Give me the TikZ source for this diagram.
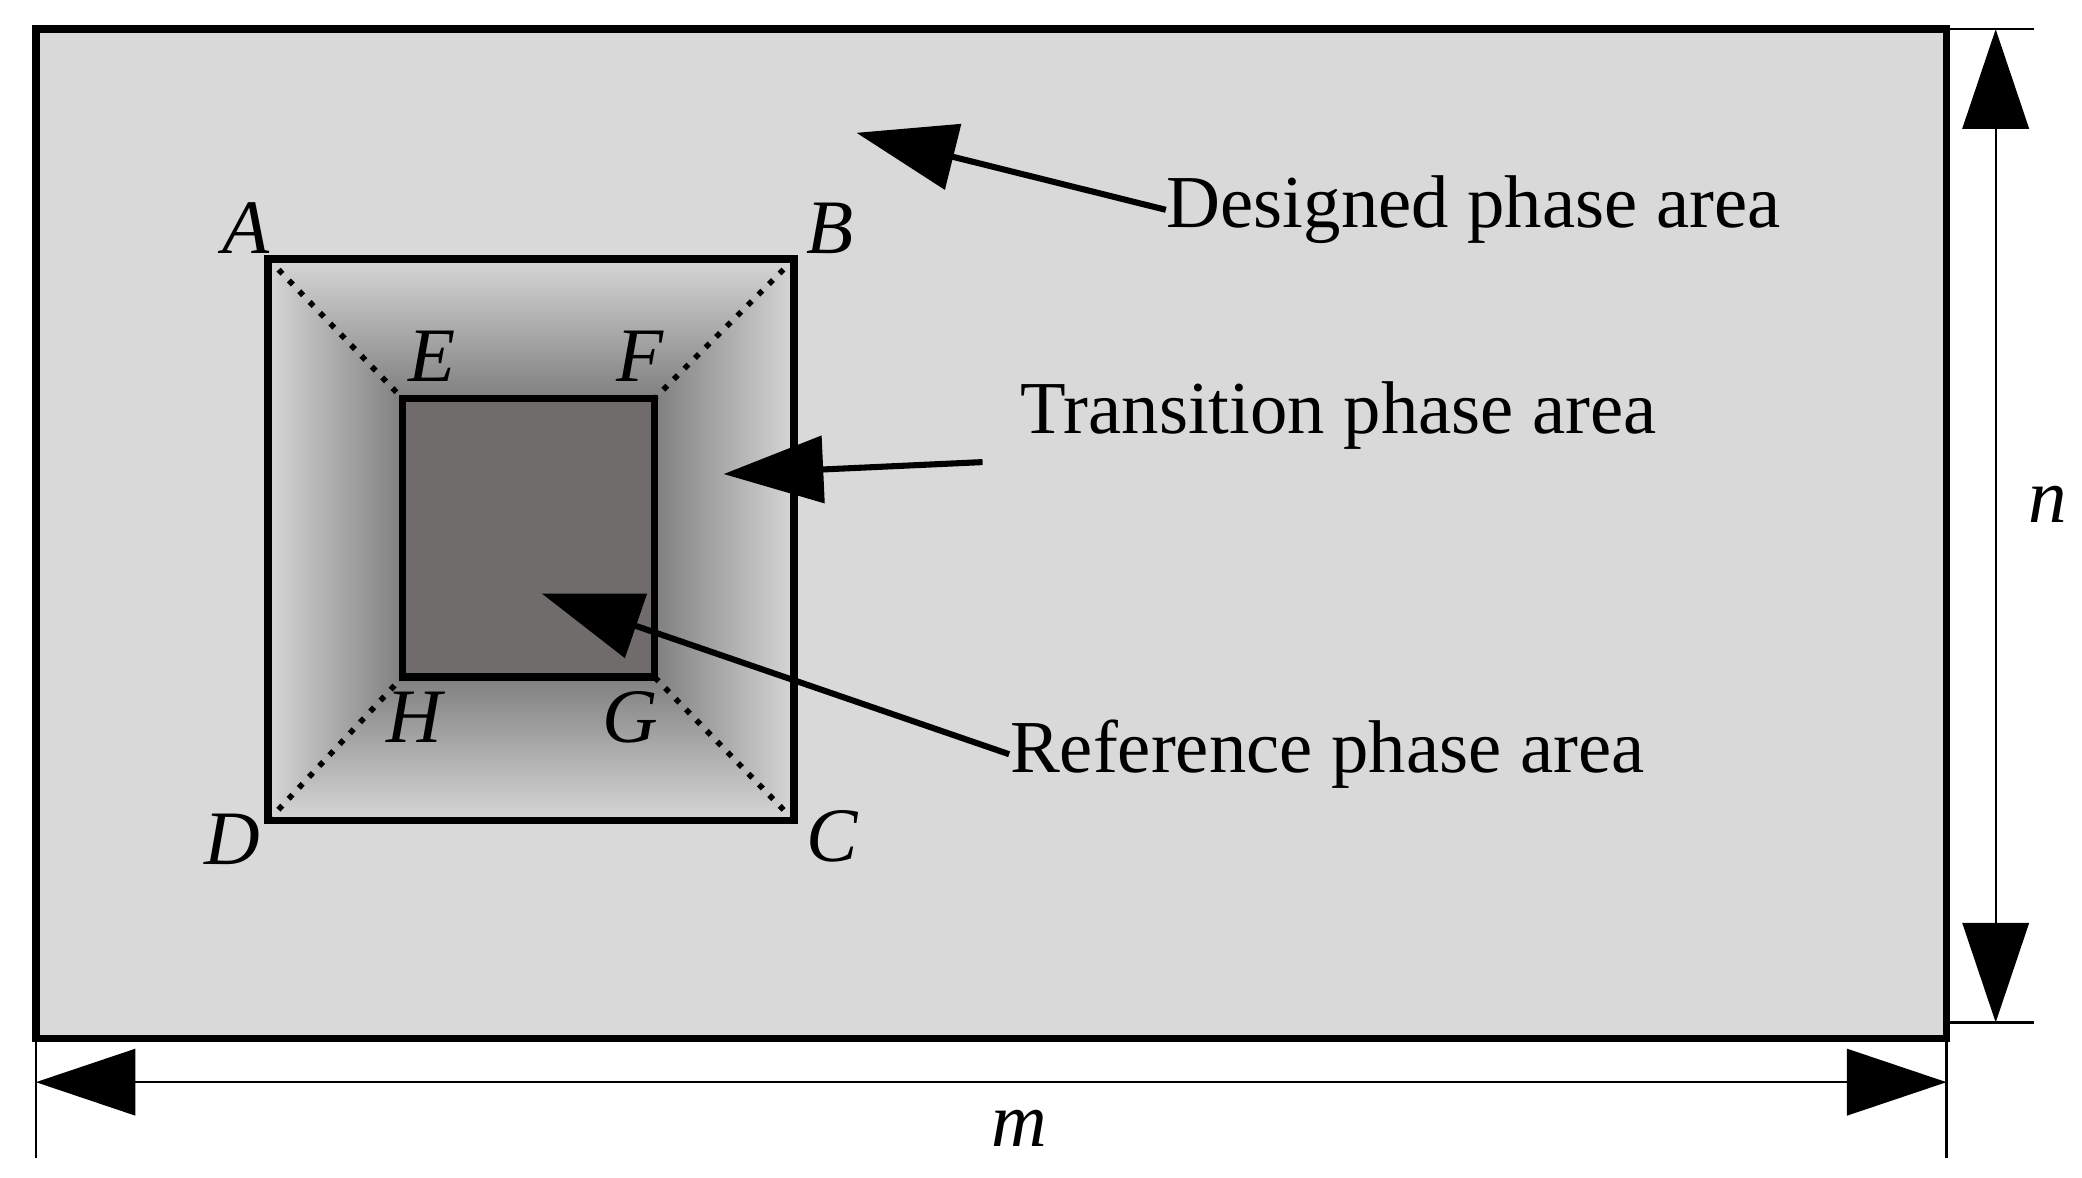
\documentclass[tikz,border=0pt]{standalone}
\usepackage{fontspec}
\setmainfont{Liberation Serif}
\usetikzlibrary{arrows.meta}
\definecolor{inner}{RGB}{112,108,108}
\begin{document}
\begin{tikzpicture}[x=0.01cm,y=-0.01cm,
  lbl/.style={font=\fontsize{16}{19}\selectfont},
  corner/.style={font=\fontsize{16.5}{20}\selectfont\itshape},
  big/.style={line width=1.3pt,-{Triangle[length=0.75cm,width=0.5cm]}},
  dim/.style={line width=0.5pt,{Triangle[length=0.75cm,width=0.5cm]}-{Triangle[length=0.75cm,width=0.5cm]}}]
\useasboundingbox (0,0) rectangle (1568,887);
\fill[black!15,draw=black,line width=1.6pt] (27,22) rectangle (1466,782);
\colorlet{lt}{black!16}\colorlet{dk}{black!50}
% transition shading
\begin{scope}\clip (202,195)--(303,300)--(303,510)--(202,618)--cycle;
\shade[left color=lt,right color=dk] (202,195) rectangle (303,618);\end{scope}
\begin{scope}\clip (598,195)--(493,300)--(493,510)--(598,618)--cycle;
\shade[left color=dk,right color=lt] (493,195) rectangle (598,618);\end{scope}
\begin{scope}\clip (202,195)--(598,195)--(493,300)--(303,300)--cycle;
\shade[top color=lt,bottom color=dk] (202,195) rectangle (598,300);\end{scope}
\begin{scope}\clip (202,618)--(598,618)--(493,510)--(303,510)--cycle;
\shade[top color=dk,bottom color=lt] (202,510) rectangle (598,618);\end{scope}
\draw[line width=1.6pt] (202,195) rectangle (598,618);
\fill[inner] (303,300) rectangle (493,510);
\draw[line width=1.6pt] (303,300) rectangle (493,510);
\coordinate (A) at (202,195);\coordinate (B) at (598,195);\coordinate (C) at (598,618);\coordinate (D) at (202,618);
\coordinate (E) at (303,300);\coordinate (F) at (493,300);\coordinate (G) at (493,510);\coordinate (H) at (303,510);
\draw[dotted,line width=1.2pt] (A)--(E) (B)--(F) (C)--(G) (D)--(H);
\node[corner] at (185,172) {A};\node[corner] at (625,172) {B};
\node[corner] at (627,630) {C};\node[corner] at (175,632) {D};
\node[corner] at (325,268) {E};\node[corner] at (482,268) {F};
\node[corner] at (475,540) {G};\node[corner] at (312,540) {H};
\node[lbl,anchor=west,inner sep=0pt] (d) at (878,158) {Designed phase area};
\node[lbl,anchor=west,inner sep=0pt] (t) at (768,313) {Transition phase area};
\node[lbl,anchor=west,inner sep=0pt] (r) at (760,568) {Reference phase area};
\coordinate (dt) at (645,100);\coordinate (tt) at (545,357);\coordinate (rt) at (408,447);
\coordinate (ts) at (740,348);
\draw[big] (d.west) -- (dt);
\draw[big] (ts) -- (tt);
\draw[big] (r.west) -- (rt);
% dimensions
\coordinate (n1) at (1503,22);\coordinate (n2) at (1503,770);
\draw[line width=0.5pt] (1466,22)--(1532,22) (1466,770)--(1532,770);
\draw[dim] (n1)--(n2);
\node[corner] at (1542,380) {n};
\coordinate (m1) at (27,815);\coordinate (m2) at (1466,815);
\draw[line width=0.5pt] (27,782)--(27,872) (1466,782)--(1466,872);
\draw[dim] (m1)--(m2);
\node[corner] at (768,850) {m};
\end{tikzpicture}
\end{document}
